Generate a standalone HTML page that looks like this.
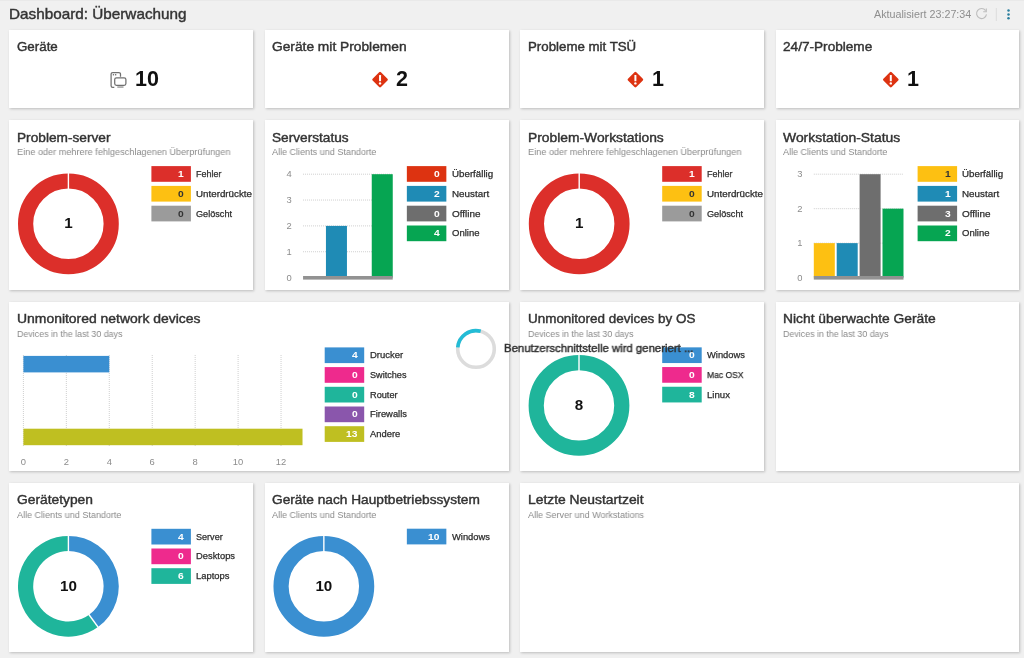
<!DOCTYPE html>
<html lang="de"><head><meta charset="utf-8"><title>Dashboard: Überwachung</title>
<style>
*{box-sizing:border-box;margin:0;padding:0}
html,body{width:1024px;height:658px;overflow:hidden}
body{background:#f0f0f0;font-family:"Liberation Sans",Arial,sans-serif;color:#333;position:relative}
.ab{position:absolute;will-change:transform}
svg{overflow:visible}
.hd{color:#333;-webkit-text-stroke:.4px #333}
.upd{color:#8e8e8e}
.c{position:absolute;background:#fff;box-shadow:.5px 1px 2.5px rgba(0,0,0,.22)}
.x{position:absolute;white-space:nowrap;transform-origin:0 50%;will-change:transform}
.t{color:#333;-webkit-text-stroke:.4px #333}
.s{color:#8a8a8a}
.n{color:#fff;font-weight:bold}
.n.dk{color:#333}
.big{position:absolute;will-change:transform;font-size:21.5px;line-height:26px;font-weight:bold;color:#111;white-space:nowrap}
.ll{color:#2d2d2d;-webkit-text-stroke:.25px #2d2d2d}
.gl{stroke:#cfcfcf;stroke-width:1;stroke-dasharray:1 1}
.ax{font-size:9.4px;fill:#8c8c8c;font-family:"Liberation Sans",Arial,sans-serif}
.dn{font-weight:bold;fill:#111;font-family:"Liberation Sans",Arial,sans-serif}
.gen{color:#303030;-webkit-text-stroke:.45px #303030}
</style></head><body>
<div class="ab" style="left:0;top:0;width:1024px;height:1px;background:#e9e9e9"></div>
<div class="x hd" style="left:9.28px;top:5.17px;font-size:14.50px;line-height:19px;transform:scaleX(1.0538)">Dashboard: Überwachung</div><div class="x upd" style="left:873.56px;top:8.03px;font-size:10.00px;line-height:13px;transform:scaleX(1.0737)">Aktualisiert 23:27:34</div>
<svg class="ab" style="left:970px;top:4px" width="50" height="22" viewBox="0 0 50 22">
<path d="M15.6 6.6A5 5 0 1 0 16.5 10.4" fill="none" stroke="#bdbdbd" stroke-width="1.1"/>
<path d="M16.3 4.6v3.1h-3.1" fill="none" stroke="#bdbdbd" stroke-width="1.1"/>
<line x1="26.3" y1="4" x2="26.3" y2="17" stroke="#dcdcdc" stroke-width="1"/>
<circle cx="38.5" cy="6.6" r="1.25" fill="#2b7f9e"/><circle cx="38.5" cy="10.4" r="1.25" fill="#2b7f9e"/><circle cx="38.5" cy="14.2" r="1.25" fill="#2b7f9e"/>
</svg>
<div class="c" style="left:9px;top:30px;width:244px;height:78px"><div class="x t" style="left:8.00px;top:9.00px;font-size:12.40px;line-height:16px;transform:scaleX(1.0763)">Geräte</div><svg class="ab" style="left:0;top:0" width="244" height="79" viewBox="0 0 244 79"><g transform="translate(0.40 0.00)"><g fill="none" stroke="#707070" stroke-width="1.25" transform="translate(.3 0)"><path d="M104.6 57.3h-1.6a1.6 1.6 0 0 1-1.6-1.6v-11.6a1.6 1.6 0 0 1 1.6-1.6h6.2a1.6 1.6 0 0 1 1.6 1.6v2.6"/><rect x="105" y="47.8" width="11.2" height="7.6" rx="1.8"/></g><rect x="103.4" y="44.1" width="1.3" height="1.3" fill="#6a6a6a"/><rect x="105.6" y="44.1" width="1.3" height="1.3" fill="#6a6a6a"/><rect x="107.9" y="56.5" width="6.2" height="1.1" fill="#7c7c7c"/></g></svg><div class="big" style="left:126.20px;top:35.80px;">10</div></div>
<div class="c" style="left:265px;top:30px;width:244px;height:78px"><div class="x t" style="left:7.42px;top:9.00px;font-size:12.40px;line-height:16px;transform:scaleX(1.1101)">Geräte mit Problemen</div><svg class="ab" style="left:0;top:0" width="244" height="79" viewBox="0 0 244 79"><g transform="translate(-0.15 0.00)"><path d="M115.20 43.20L121.70 49.70L115.20 56.20L108.70 49.70Z" fill="#dd3311" stroke="#dd3311" stroke-width="2.6" stroke-linejoin="round"/><rect x="114.20" y="45.00" width="2" height="6.2" rx=".5" fill="#fff"/><circle cx="115.20" cy="53.40" r="1.2" fill="#fff"/></g></svg><div class="big" style="left:131.35px;top:35.80px;">2</div></div>
<div class="c" style="left:520px;top:30px;width:244px;height:78px"><div class="x t" style="left:7.80px;top:9.00px;font-size:12.40px;line-height:16px;transform:scaleX(1.0715)">Probleme mit TSÜ</div><svg class="ab" style="left:0;top:0" width="244" height="79" viewBox="0 0 244 79"><g transform="translate(0.20 0.00)"><path d="M115.20 43.20L121.70 49.70L115.20 56.20L108.70 49.70Z" fill="#dd3311" stroke="#dd3311" stroke-width="2.6" stroke-linejoin="round"/><rect x="114.20" y="45.00" width="2" height="6.2" rx=".5" fill="#fff"/><circle cx="115.20" cy="53.40" r="1.2" fill="#fff"/></g></svg><div class="big" style="left:131.70px;top:35.80px;">1</div></div>
<div class="c" style="left:776px;top:30px;width:243px;height:78px"><div class="x t" style="left:7.18px;top:9.00px;font-size:12.40px;line-height:16px;transform:scaleX(1.0984)">24/7-Probleme</div><svg class="ab" style="left:0;top:0" width="244" height="79" viewBox="0 0 244 79"><g transform="translate(-0.40 0.00)"><path d="M115.20 43.20L121.70 49.70L115.20 56.20L108.70 49.70Z" fill="#dd3311" stroke="#dd3311" stroke-width="2.6" stroke-linejoin="round"/><rect x="114.20" y="45.00" width="2" height="6.2" rx=".5" fill="#fff"/><circle cx="115.20" cy="53.40" r="1.2" fill="#fff"/></g></svg><div class="big" style="left:131.10px;top:35.80px;">1</div></div>
<div class="c" style="left:9px;top:120px;width:244px;height:170px"><div class="x t" style="left:7.98px;top:9.70px;font-size:12.40px;line-height:16px;transform:scaleX(1.1037)">Problem-server</div><div class="x s" style="left:7.85px;top:26.17px;font-size:9.30px;line-height:12px;transform:scaleX(0.9832)">Eine oder mehrere fehlgeschlagenen Überprüfungen</div><svg class="ab" width="140" height="170" style="left:0;top:0" viewBox="0 0 140 170"><g transform="translate(0.40 0.00)"><circle cx="59.00" cy="103.80" r="42.80" fill="none" stroke="#dc2f2a" stroke-width="15.20"/><line x1="59.00" y1="69.60" x2="59.00" y2="52.40" stroke="#fff" stroke-width="1.4"/><text x="59.00" y="108.20" text-anchor="middle" class="dn" font-size="15.2">1</text></g></svg><svg class="ab" width="187" height="109" style="left:0;top:0" viewBox="0 0 187 109"><g transform="translate(0.40 0.00)"><rect x="142.00" y="46.10" width="39.5" height="15.7" fill="#dc2f2a"/><rect x="142.00" y="65.90" width="39.5" height="15.7" fill="#fdc012"/><rect x="142.00" y="85.70" width="39.5" height="15.7" fill="#9b9b9b"/></g></svg><div class="x n" style="left:169.49px;top:47.90px;font-size:9.50px;line-height:12px;transform:scaleX(1.0800)">1</div><div class="x ll" style="left:187.26px;top:48.08px;font-size:9.00px;line-height:12px;transform:scaleX(0.9947)">Fehler</div><div class="x n dk" style="left:169.49px;top:67.70px;font-size:9.50px;line-height:12px;transform:scaleX(1.0800)">0</div><div class="x ll" style="left:187.21px;top:67.88px;font-size:9.00px;line-height:12px;transform:scaleX(1.0864)">Unterdrückte</div><div class="x n dk" style="left:169.49px;top:87.50px;font-size:9.50px;line-height:12px;transform:scaleX(1.0800)">0</div><div class="x ll" style="left:187.25px;top:87.68px;font-size:9.00px;line-height:12px;transform:scaleX(1.0135)">Gelöscht</div></div>
<div class="c" style="left:265px;top:120px;width:244px;height:170px"><div class="x t" style="left:7.43px;top:9.70px;font-size:12.40px;line-height:16px;transform:scaleX(1.1010)">Serverstatus</div><div class="x s" style="left:7.31px;top:26.17px;font-size:9.30px;line-height:12px;transform:scaleX(0.9717)">Alle Clients und Standorte</div><svg class="ab" width="160" height="170" style="left:0;top:0" viewBox="0 0 160 170"><g transform="translate(-0.15 0.00)"><text x="24.20" y="160.60" class="ax" text-anchor="middle">0</text><line x1="38.20" y1="131.75" x2="127.90" y2="131.75" class="gl"/><text x="24.20" y="134.75" class="ax" text-anchor="middle">1</text><line x1="38.20" y1="105.90" x2="127.90" y2="105.90" class="gl"/><text x="24.20" y="108.90" class="ax" text-anchor="middle">2</text><line x1="38.20" y1="80.05" x2="127.90" y2="80.05" class="gl"/><text x="24.20" y="83.05" class="ax" text-anchor="middle">3</text><line x1="38.20" y1="54.20" x2="127.90" y2="54.20" class="gl"/><text x="24.20" y="57.20" class="ax" text-anchor="middle">4</text><rect x="61.10" y="105.90" width="21.00" height="51.70" fill="#1f8bb5"/><rect x="106.90" y="54.20" width="21.00" height="103.40" fill="#06a552"/><rect x="38.20" y="156.00" width="89.70" height="3.6" fill="#929292"/></g></svg><svg class="ab" width="187" height="129" style="left:0;top:0" viewBox="0 0 187 129"><g transform="translate(-0.15 0.00)"><rect x="142.00" y="46.10" width="39.5" height="15.7" fill="#dd3311"/><rect x="142.00" y="65.90" width="39.5" height="15.7" fill="#1f8bb5"/><rect x="142.00" y="85.70" width="39.5" height="15.7" fill="#6e6e6e"/><rect x="142.00" y="105.50" width="39.5" height="15.7" fill="#06a552"/></g></svg><div class="x n" style="left:168.94px;top:47.90px;font-size:9.50px;line-height:12px;transform:scaleX(1.0800)">0</div><div class="x ll" style="left:186.67px;top:48.08px;font-size:9.00px;line-height:12px;transform:scaleX(1.0829)">Überfällig</div><div class="x n" style="left:168.94px;top:67.70px;font-size:9.50px;line-height:12px;transform:scaleX(1.0800)">2</div><div class="x ll" style="left:186.66px;top:67.88px;font-size:9.00px;line-height:12px;transform:scaleX(1.0931)">Neustart</div><div class="x n" style="left:168.94px;top:87.50px;font-size:9.50px;line-height:12px;transform:scaleX(1.0800)">0</div><div class="x ll" style="left:186.65px;top:87.68px;font-size:9.00px;line-height:12px;transform:scaleX(1.1022)">Offline</div><div class="x n" style="left:168.94px;top:107.30px;font-size:9.50px;line-height:12px;transform:scaleX(1.0800)">4</div><div class="x ll" style="left:186.68px;top:107.48px;font-size:9.00px;line-height:12px;transform:scaleX(1.0587)">Online</div></div>
<div class="c" style="left:520px;top:120px;width:244px;height:170px"><div class="x t" style="left:7.77px;top:9.70px;font-size:12.40px;line-height:16px;transform:scaleX(1.1160)">Problem-Workstations</div><div class="x s" style="left:7.65px;top:26.17px;font-size:9.30px;line-height:12px;transform:scaleX(0.9832)">Eine oder mehrere fehlgeschlagenen Überprüfungen</div><svg class="ab" width="140" height="170" style="left:0;top:0" viewBox="0 0 140 170"><g transform="translate(0.20 0.00)"><circle cx="59.00" cy="103.80" r="42.80" fill="none" stroke="#dc2f2a" stroke-width="15.20"/><line x1="59.00" y1="69.60" x2="59.00" y2="52.40" stroke="#fff" stroke-width="1.4"/><text x="59.00" y="108.20" text-anchor="middle" class="dn" font-size="15.2">1</text></g></svg><svg class="ab" width="187" height="109" style="left:0;top:0" viewBox="0 0 187 109"><g transform="translate(0.20 0.00)"><rect x="142.00" y="46.10" width="39.5" height="15.7" fill="#dc2f2a"/><rect x="142.00" y="65.90" width="39.5" height="15.7" fill="#fdc012"/><rect x="142.00" y="85.70" width="39.5" height="15.7" fill="#9b9b9b"/></g></svg><div class="x n" style="left:169.29px;top:47.90px;font-size:9.50px;line-height:12px;transform:scaleX(1.0800)">1</div><div class="x ll" style="left:187.06px;top:48.08px;font-size:9.00px;line-height:12px;transform:scaleX(0.9947)">Fehler</div><div class="x n dk" style="left:169.29px;top:67.70px;font-size:9.50px;line-height:12px;transform:scaleX(1.0800)">0</div><div class="x ll" style="left:187.01px;top:67.88px;font-size:9.00px;line-height:12px;transform:scaleX(1.0864)">Unterdrückte</div><div class="x n dk" style="left:169.29px;top:87.50px;font-size:9.50px;line-height:12px;transform:scaleX(1.0800)">0</div><div class="x ll" style="left:187.05px;top:87.68px;font-size:9.00px;line-height:12px;transform:scaleX(1.0135)">Gelöscht</div></div>
<div class="c" style="left:776px;top:120px;width:243px;height:170px"><div class="x t" style="left:7.16px;top:9.70px;font-size:12.40px;line-height:16px;transform:scaleX(1.1229)">Workstation-Status</div><div class="x s" style="left:7.06px;top:26.17px;font-size:9.30px;line-height:12px;transform:scaleX(0.9717)">Alle Clients und Standorte</div><svg class="ab" width="160" height="170" style="left:0;top:0" viewBox="0 0 160 170"><g transform="translate(-0.40 0.00)"><text x="24.20" y="160.60" class="ax" text-anchor="middle">0</text><line x1="38.20" y1="123.13" x2="127.90" y2="123.13" class="gl"/><text x="24.20" y="126.13" class="ax" text-anchor="middle">1</text><line x1="38.20" y1="88.67" x2="127.90" y2="88.67" class="gl"/><text x="24.20" y="91.67" class="ax" text-anchor="middle">2</text><line x1="38.20" y1="54.20" x2="127.90" y2="54.20" class="gl"/><text x="24.20" y="57.20" class="ax" text-anchor="middle">3</text><rect x="38.20" y="123.13" width="21.00" height="34.47" fill="#fdc012"/><rect x="61.10" y="123.13" width="21.00" height="34.47" fill="#1f8bb5"/><rect x="84.00" y="54.20" width="21.00" height="103.40" fill="#6e6e6e"/><rect x="106.90" y="88.67" width="21.00" height="68.93" fill="#06a552"/><rect x="38.20" y="156.00" width="89.70" height="3.6" fill="#929292"/></g></svg><svg class="ab" width="187" height="129" style="left:0;top:0" viewBox="0 0 187 129"><g transform="translate(-0.40 0.00)"><rect x="142.00" y="46.10" width="39.5" height="15.7" fill="#fdc012"/><rect x="142.00" y="65.90" width="39.5" height="15.7" fill="#1f8bb5"/><rect x="142.00" y="85.70" width="39.5" height="15.7" fill="#6e6e6e"/><rect x="142.00" y="105.50" width="39.5" height="15.7" fill="#06a552"/></g></svg><div class="x n dk" style="left:168.69px;top:47.90px;font-size:9.50px;line-height:12px;transform:scaleX(1.0800)">1</div><div class="x ll" style="left:186.42px;top:48.08px;font-size:9.00px;line-height:12px;transform:scaleX(1.0829)">Überfällig</div><div class="x n" style="left:168.69px;top:67.70px;font-size:9.50px;line-height:12px;transform:scaleX(1.0800)">1</div><div class="x ll" style="left:186.41px;top:67.88px;font-size:9.00px;line-height:12px;transform:scaleX(1.0931)">Neustart</div><div class="x n" style="left:168.69px;top:87.50px;font-size:9.50px;line-height:12px;transform:scaleX(1.0800)">3</div><div class="x ll" style="left:186.40px;top:87.68px;font-size:9.00px;line-height:12px;transform:scaleX(1.1022)">Offline</div><div class="x n" style="left:168.69px;top:107.30px;font-size:9.50px;line-height:12px;transform:scaleX(1.0800)">2</div><div class="x ll" style="left:186.43px;top:107.48px;font-size:9.00px;line-height:12px;transform:scaleX(1.0587)">Online</div></div>
<div class="c" style="left:9px;top:302px;width:500px;height:169px"><div class="x t" style="left:7.96px;top:8.50px;font-size:12.40px;line-height:16px;transform:scaleX(1.1241)">Unmonitored network devices</div><div class="x s" style="left:7.87px;top:25.67px;font-size:9.30px;line-height:12px;transform:scaleX(0.9534)">Devices in the last 30 days</div><svg class="ab" width="320" height="170" style="left:0;top:0" viewBox="0 0 320 170"><g transform="translate(0.40 -0.50)"><line x1="14.00" y1="53.50" x2="14.00" y2="144.50" class="gl"/><text x="14.00" y="163.60" class="ax" text-anchor="middle">0</text><line x1="56.94" y1="53.50" x2="56.94" y2="144.50" class="gl"/><text x="56.94" y="163.60" class="ax" text-anchor="middle">2</text><line x1="99.88" y1="53.50" x2="99.88" y2="144.50" class="gl"/><text x="99.88" y="163.60" class="ax" text-anchor="middle">4</text><line x1="142.82" y1="53.50" x2="142.82" y2="144.50" class="gl"/><text x="142.82" y="163.60" class="ax" text-anchor="middle">6</text><line x1="185.76" y1="53.50" x2="185.76" y2="144.50" class="gl"/><text x="185.76" y="163.60" class="ax" text-anchor="middle">8</text><line x1="228.70" y1="53.50" x2="228.70" y2="144.50" class="gl"/><text x="228.70" y="163.60" class="ax" text-anchor="middle">10</text><line x1="271.64" y1="53.50" x2="271.64" y2="144.50" class="gl"/><text x="271.64" y="163.60" class="ax" text-anchor="middle">12</text><rect x="14.00" y="54.40" width="85.88" height="16.50" fill="#3a8fd1"/><rect x="14.00" y="127.20" width="279.11" height="16.50" fill="#bfbf21"/></g></svg><svg class="ab" width="360" height="148" style="left:0;top:0" viewBox="0 0 360 148"><g transform="translate(0.40 -0.50)"><rect x="315.30" y="45.90" width="39.5" height="15.7" fill="#3a8fd1"/><rect x="315.30" y="65.60" width="39.5" height="15.7" fill="#ee2a8d"/><rect x="315.30" y="85.30" width="39.5" height="15.7" fill="#1fb59b"/><rect x="315.30" y="105.00" width="39.5" height="15.7" fill="#8a56ac"/><rect x="315.30" y="124.70" width="39.5" height="15.7" fill="#bfbf21"/></g></svg><div class="x n" style="left:342.79px;top:47.20px;font-size:9.50px;line-height:12px;transform:scaleX(1.0800)">4</div><div class="x ll" style="left:360.53px;top:47.38px;font-size:9.00px;line-height:12px;transform:scaleX(1.0551)">Drucker</div><div class="x n" style="left:342.79px;top:66.90px;font-size:9.50px;line-height:12px;transform:scaleX(1.0800)">0</div><div class="x ll" style="left:360.55px;top:67.08px;font-size:9.00px;line-height:12px;transform:scaleX(1.0134)">Switches</div><div class="x n" style="left:342.79px;top:86.60px;font-size:9.50px;line-height:12px;transform:scaleX(1.0800)">0</div><div class="x ll" style="left:360.55px;top:86.78px;font-size:9.00px;line-height:12px;transform:scaleX(1.0218)">Router</div><div class="x n" style="left:342.79px;top:106.30px;font-size:9.50px;line-height:12px;transform:scaleX(1.0800)">0</div><div class="x ll" style="left:360.54px;top:106.48px;font-size:9.00px;line-height:12px;transform:scaleX(1.0400)">Firewalls</div><div class="x n" style="left:337.09px;top:126.00px;font-size:9.50px;line-height:12px;transform:scaleX(1.0800)">13</div><div class="x ll" style="left:360.54px;top:126.18px;font-size:9.00px;line-height:12px;transform:scaleX(1.0415)">Andere</div></div>
<div class="c" style="left:520px;top:302px;width:244px;height:169px"><div class="x t" style="left:7.79px;top:8.50px;font-size:12.40px;line-height:16px;transform:scaleX(1.0854)">Unmonitored devices by OS</div><div class="x s" style="left:7.67px;top:25.67px;font-size:9.30px;line-height:12px;transform:scaleX(0.9534)">Devices in the last 30 days</div><svg class="ab" width="140" height="170" style="left:0;top:0" viewBox="0 0 140 170"><g transform="translate(0.20 -0.50)"><circle cx="58.80" cy="103.90" r="42.80" fill="none" stroke="#1fb59b" stroke-width="15.20"/><line x1="58.80" y1="69.70" x2="58.80" y2="52.50" stroke="#fff" stroke-width="1.4"/><text x="58.80" y="108.30" text-anchor="middle" class="dn" font-size="15.2">8</text></g></svg><svg class="ab" width="187" height="108" style="left:0;top:0" viewBox="0 0 187 108"><g transform="translate(0.20 -0.50)"><rect x="142.00" y="45.85" width="39.5" height="15.7" fill="#3a8fd1"/><rect x="142.00" y="65.55" width="39.5" height="15.7" fill="#ee2a8d"/><rect x="142.00" y="85.25" width="39.5" height="15.7" fill="#1fb59b"/></g></svg><div class="x n" style="left:169.29px;top:47.15px;font-size:9.50px;line-height:12px;transform:scaleX(1.0800)">0</div><div class="x ll" style="left:187.04px;top:47.33px;font-size:9.00px;line-height:12px;transform:scaleX(1.0387)">Windows</div><div class="x n" style="left:169.29px;top:66.85px;font-size:9.50px;line-height:12px;transform:scaleX(1.0800)">0</div><div class="x ll" style="left:187.09px;top:67.03px;font-size:9.00px;line-height:12px;transform:scaleX(0.9485)">Mac OSX</div><div class="x n" style="left:169.29px;top:86.55px;font-size:9.50px;line-height:12px;transform:scaleX(1.0800)">8</div><div class="x ll" style="left:187.02px;top:86.73px;font-size:9.00px;line-height:12px;transform:scaleX(1.0668)">Linux</div></div>
<div class="c" style="left:776px;top:302px;width:243px;height:169px"><div class="x t" style="left:7.17px;top:8.50px;font-size:12.40px;line-height:16px;transform:scaleX(1.1145)">Nicht überwachte Geräte</div><div class="x s" style="left:7.07px;top:25.67px;font-size:9.30px;line-height:12px;transform:scaleX(0.9534)">Devices in the last 30 days</div></div>
<div class="c" style="left:9px;top:483px;width:244px;height:169px"><div class="x t" style="left:7.97px;top:8.70px;font-size:12.40px;line-height:16px;transform:scaleX(1.1130)">Gerätetypen</div><div class="x s" style="left:7.86px;top:25.87px;font-size:9.30px;line-height:12px;transform:scaleX(0.9717)">Alle Clients und Standorte</div><svg class="ab" width="140" height="170" style="left:0;top:0" viewBox="0 0 140 170"><g transform="translate(0.40 -0.30)"><path d="M59.00 53.20A50.40 50.40 0 0 1 88.62 144.37L79.69 132.08A35.20 35.20 0 0 0 59.00 68.40Z" fill="#3a8fd1"/><path d="M88.62 144.37A50.40 50.40 0 1 1 59.00 53.20L59.00 68.40A35.20 35.20 0 1 0 79.69 132.08Z" fill="#1fb59b"/><line x1="59.00" y1="69.40" x2="59.00" y2="52.20" stroke="#fff" stroke-width="1.4"/><line x1="79.10" y1="131.27" x2="89.21" y2="145.18" stroke="#fff" stroke-width="1.4"/><text x="59.00" y="108.00" text-anchor="middle" class="dn" font-size="15.2">10</text></g></svg><svg class="ab" width="187" height="109" style="left:0;top:0" viewBox="0 0 187 109"><g transform="translate(0.40 -0.30)"><rect x="142.00" y="46.10" width="39.5" height="15.7" fill="#3a8fd1"/><rect x="142.00" y="65.80" width="39.5" height="15.7" fill="#ee2a8d"/><rect x="142.00" y="85.50" width="39.5" height="15.7" fill="#1fb59b"/></g></svg><div class="x n" style="left:169.49px;top:47.60px;font-size:9.50px;line-height:12px;transform:scaleX(1.0800)">4</div><div class="x ll" style="left:187.26px;top:47.78px;font-size:9.00px;line-height:12px;transform:scaleX(1.0068)">Server</div><div class="x n" style="left:169.49px;top:67.30px;font-size:9.50px;line-height:12px;transform:scaleX(1.0800)">0</div><div class="x ll" style="left:187.24px;top:67.48px;font-size:9.00px;line-height:12px;transform:scaleX(1.0402)">Desktops</div><div class="x n" style="left:169.49px;top:87.00px;font-size:9.50px;line-height:12px;transform:scaleX(1.0800)">6</div><div class="x ll" style="left:187.23px;top:87.18px;font-size:9.00px;line-height:12px;transform:scaleX(1.0469)">Laptops</div></div>
<div class="c" style="left:265px;top:483px;width:244px;height:169px"><div class="x t" style="left:7.43px;top:8.70px;font-size:12.40px;line-height:16px;transform:scaleX(1.1057)">Geräte nach Hauptbetriebssystem</div><div class="x s" style="left:7.31px;top:25.87px;font-size:9.30px;line-height:12px;transform:scaleX(0.9717)">Alle Clients und Standorte</div><svg class="ab" width="140" height="170" style="left:0;top:0" viewBox="0 0 140 170"><g transform="translate(-0.15 -0.30)"><circle cx="59.00" cy="103.60" r="42.80" fill="none" stroke="#3a8fd1" stroke-width="15.20"/><line x1="59.00" y1="69.40" x2="59.00" y2="52.20" stroke="#fff" stroke-width="1.4"/><text x="59.00" y="108.00" text-anchor="middle" class="dn" font-size="15.2">10</text></g></svg><svg class="ab" width="187" height="69" style="left:0;top:0" viewBox="0 0 187 69"><g transform="translate(-0.15 -0.30)"><rect x="142.00" y="46.00" width="39.5" height="15.7" fill="#3a8fd1"/></g></svg><div class="x n" style="left:163.24px;top:47.50px;font-size:9.50px;line-height:12px;transform:scaleX(1.0800)">10</div><div class="x ll" style="left:186.69px;top:47.68px;font-size:9.00px;line-height:12px;transform:scaleX(1.0387)">Windows</div></div>
<div class="c" style="left:520px;top:483px;width:499px;height:169px"><div class="x t" style="left:7.77px;top:8.70px;font-size:12.40px;line-height:16px;transform:scaleX(1.1183)">Letzte Neustartzeit</div><div class="x s" style="left:7.66px;top:25.87px;font-size:9.30px;line-height:12px;transform:scaleX(0.9685)">Alle Server und Workstations</div></div>
<svg class="ab" style="left:454px;top:327px" width="44" height="44" viewBox="0 0 44 44">
<circle cx="22" cy="22" r="18.3" fill="none" stroke="#dcdcdc" stroke-width="3.6"/>
<path d="M3.76 20.4A18.3 18.3 0 0 1 26.7 4.3" fill="none" stroke="#23bcd6" stroke-width="3.6"/>
</svg>
<div class="x gen" style="left:503.62px;top:340.51px;font-size:11.50px;line-height:15px;transform:scaleX(0.9875)">Benutzerschnittstelle wird generiert ...</div>
</body></html>
